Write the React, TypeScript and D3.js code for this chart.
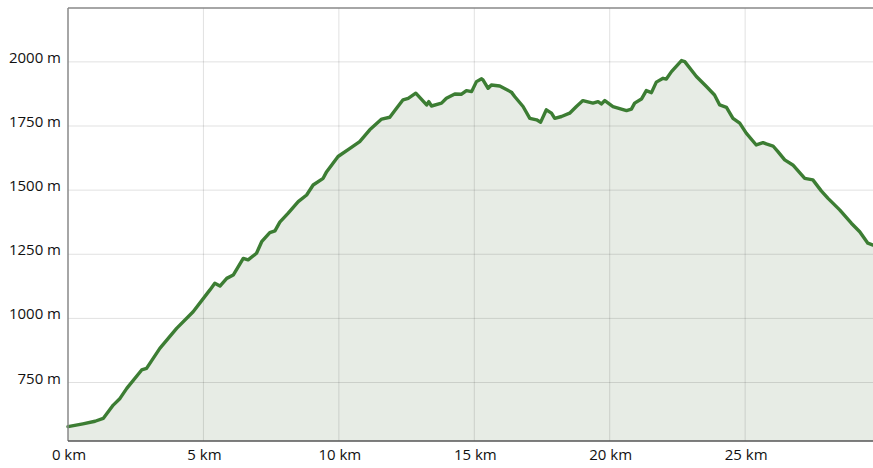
import React, {useEffect, useRef} from 'react';
import * as d3 from 'd3';

// distance along the route (km) and elevation (m)
const distanceKm = [
    0.0, 0.55, 1.00, 1.30, 1.67, 1.92, 2.17, 2.72, 2.90, 3.39, 4.01, 4.62,
    5.24, 5.42, 5.61, 5.86, 6.10, 6.47, 6.65, 6.96, 7.15, 7.45,
    7.64, 7.82, 8.13, 8.50, 8.81, 9.05, 9.42, 9.55, 9.97, 10.41,
    10.77, 11.14, 11.58, 11.88, 12.13, 12.37, 12.56, 12.84, 13.24, 13.32,
    13.42, 13.79, 13.97, 14.28, 14.53, 14.71, 14.90, 15.08, 15.27, 15.32,
    15.51, 15.63, 15.94, 16.37, 16.49, 16.80, 17.05, 17.30, 17.45, 17.66,
    17.85, 17.97, 18.22, 18.52, 18.77, 19.01, 19.38, 19.57, 19.69, 19.82,
    20.12, 20.43, 20.62, 20.80, 20.92, 21.17, 21.35, 21.54, 21.72, 21.97,
    22.09, 22.28, 22.65, 22.77, 23.20, 23.57, 23.87, 24.06, 24.31, 24.55,
    24.80, 25.04, 25.41, 25.66, 25.78, 26.03, 26.21, 26.46, 26.76, 27.20,
    27.50, 27.81, 28.06, 28.49, 28.92, 29.23, 29.53, 29.72
];

const elevationM = [
    578, 589, 599, 610, 662, 688, 727, 799, 805, 883, 961, 1026,
    1111, 1137, 1126, 1156, 1169, 1234, 1228, 1254, 1299, 1334,
    1341, 1375, 1410, 1455, 1481, 1520, 1546, 1572, 1631, 1663,
    1689, 1735, 1777, 1784, 1819, 1852, 1858, 1878, 1832, 1845,
    1828, 1839, 1858, 1875, 1874, 1888, 1884, 1923, 1934, 1930,
    1897, 1910, 1906, 1882, 1865, 1826, 1780, 1774, 1765, 1813,
    1800, 1780, 1787, 1800, 1826, 1849, 1839, 1845, 1836, 1849,
    1826, 1816, 1810, 1816, 1839, 1855, 1888, 1880, 1921, 1936,
    1933, 1962, 2005, 2001, 1943, 1904, 1871, 1832, 1823, 1780,
    1761, 1722, 1676, 1685, 1680, 1672, 1650, 1618, 1598, 1546,
    1540, 1497, 1468, 1423, 1371, 1338, 1293, 1286
];

const xTicks = [0, 5, 10, 15, 20, 25];
const yTicks = [750, 1000, 1250, 1500, 1750, 2000];

const xDomain: [number, number] = [0, 29.72];
const yDomain: [number, number] = [522, 2210];

const width = 873;
const height = 468;
const margin = {top: 8, right: 0, bottom: 27, left: 68};

const ElevationProfile: React.FC = () => {
    const svgRef = useRef<SVGSVGElement>(null);

    useEffect(() => {
        const svg = d3.select(svgRef.current);
        svg.selectAll("*").remove();

        const innerWidth = width - margin.left - margin.right;
        const innerHeight = height - margin.top - margin.bottom;
        const font = "'Open Sans', 'DejaVu Sans', sans-serif";

        const data = distanceKm.map((d, i) => ({km: d, m: elevationM[i]}));

        const xScale = d3.scaleLinear().domain(xDomain).range([0, innerWidth]);
        const yScale = d3.scaleLinear().domain(yDomain).range([innerHeight, 0]);

        const g = svg.append("g")
            .attr("transform", `translate(${margin.left},${margin.top})`);

        // filled area under the profile
        const area = d3.area<{km: number; m: number}>()
            .x(d => xScale(d.km))
            .y0(innerHeight)
            .y1(d => yScale(d.m));

        g.append("path")
            .datum(data)
            .attr("fill", "#e7ece5")
            .attr("d", area);

        // gridlines (drawn over the fill, slightly transparent)
        g.append("g")
            .selectAll("line")
            .data(xTicks.filter(t => t > 0))
            .enter().append("line")
            .attr("x1", d => xScale(d))
            .attr("x2", d => xScale(d))
            .attr("y1", 0)
            .attr("y2", innerHeight)
            .attr("stroke", "rgba(0,0,0,0.12)")
            .attr("stroke-width", 1);

        g.append("g")
            .selectAll("line")
            .data(yTicks)
            .enter().append("line")
            .attr("x1", 0)
            .attr("x2", innerWidth)
            .attr("y1", d => yScale(d))
            .attr("y2", d => yScale(d))
            .attr("stroke", "rgba(0,0,0,0.12)")
            .attr("stroke-width", 1);

        // profile line
        const line = d3.line<{km: number; m: number}>()
            .x(d => xScale(d.km))
            .y(d => yScale(d.m));

        g.append("path")
            .datum(data)
            .attr("fill", "none")
            .attr("stroke", "#3c7d33")
            .attr("stroke-width", 3.4)
            .attr("stroke-linejoin", "round")
            .attr("stroke-linecap", "round")
            .attr("d", line);

        // frame: top and left light, bottom darker
        g.append("line")
            .attr("x1", 0).attr("x2", innerWidth)
            .attr("y1", 0).attr("y2", 0)
            .attr("stroke", "#888").attr("stroke-width", 1.3);
        g.append("line")
            .attr("x1", 0).attr("x2", 0)
            .attr("y1", 0).attr("y2", innerHeight)
            .attr("stroke", "#888").attr("stroke-width", 1.5);
        g.append("line")
            .attr("x1", 0).attr("x2", innerWidth)
            .attr("y1", innerHeight).attr("y2", innerHeight)
            .attr("stroke", "#555").attr("stroke-width", 1.5);

        // y labels
        g.append("g")
            .selectAll("text")
            .data(yTicks)
            .enter().append("text")
            .attr("x", -7)
            .attr("y", d => yScale(d) + 1)
            .attr("text-anchor", "end")
            .style("font-family", font)
            .style("font-size", "15px")
            .attr("fill", "#111")
            .text(d => `${d} m`);

        // x labels
        g.append("g")
            .selectAll("text")
            .data(xTicks)
            .enter().append("text")
            .attr("x", d => xScale(d) + 1)
            .attr("y", innerHeight + 19)
            .attr("text-anchor", "middle")
            .style("font-family", font)
            .style("font-size", "15px")
            .attr("fill", "#111")
            .text(d => `${d} km`);
    }, []);

    return (
        <svg
            ref={svgRef}
            width={width}
            height={height}
            style={{position: "absolute", left: 0, top: 0, background: "#fff"}}
        />
    );
};

export default function App() {
    return <ElevationProfile/>;
}
